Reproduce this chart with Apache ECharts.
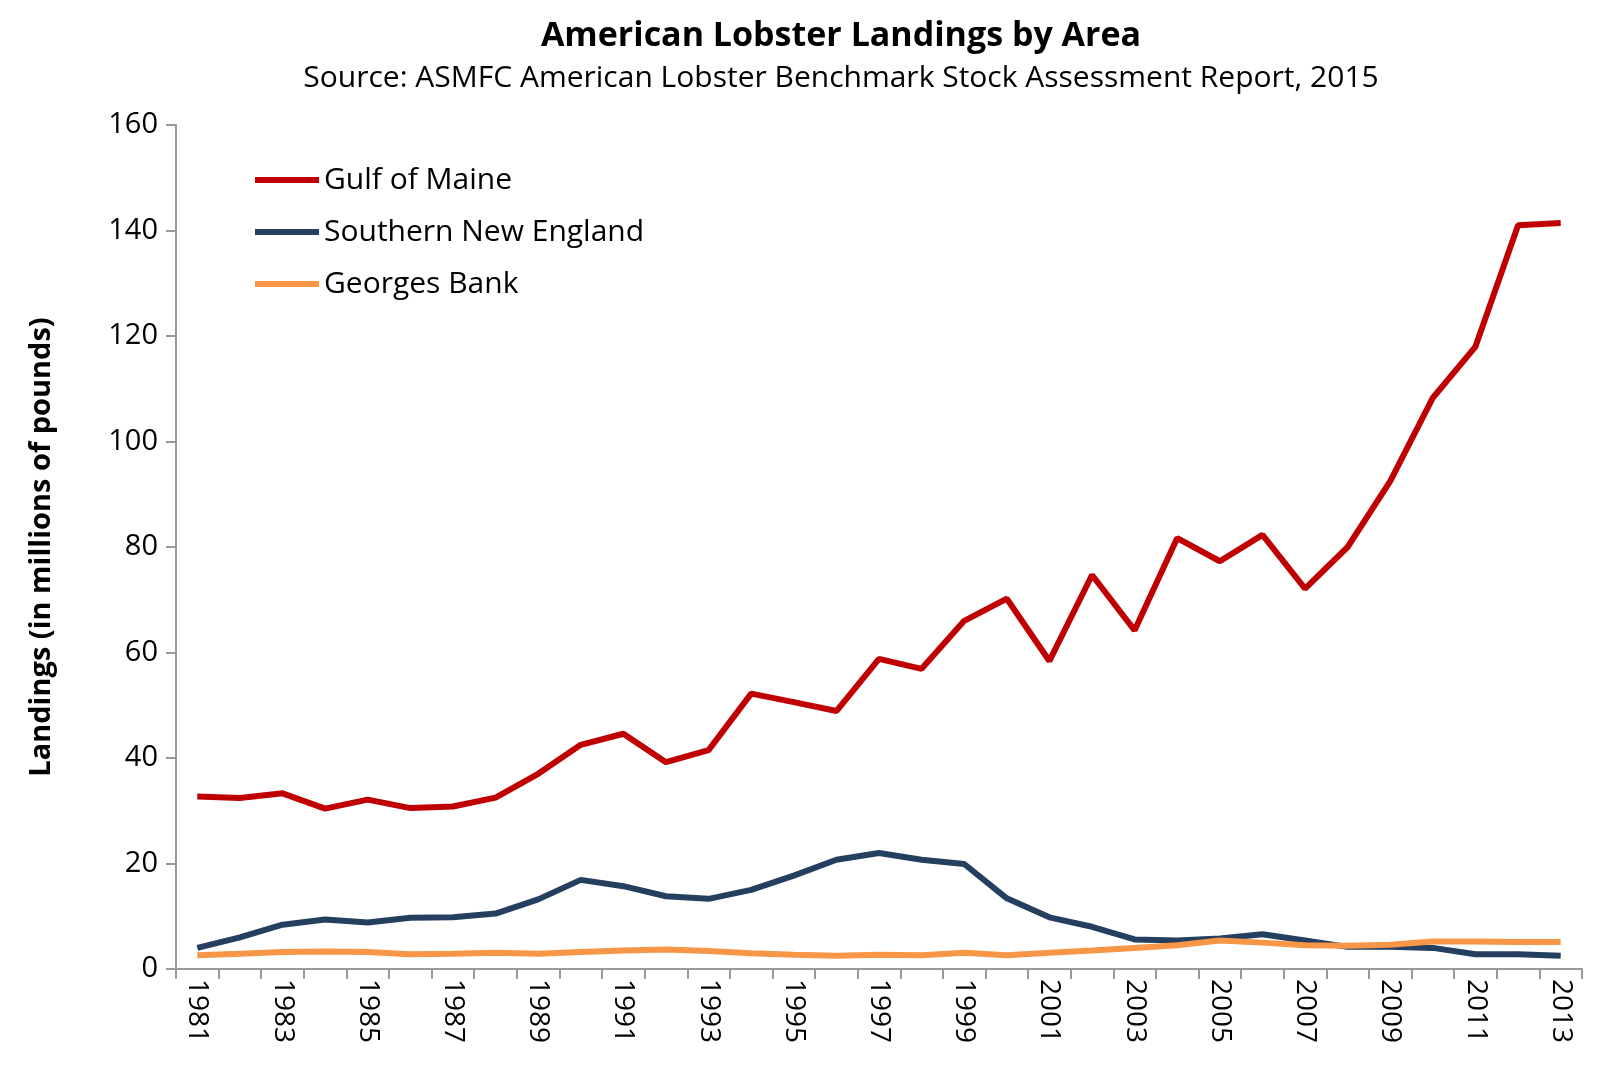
<!DOCTYPE html>
<html><head><meta charset="utf-8">
<script src="https://cdn.jsdelivr.net/npm/echarts@6/dist/echarts.min.js"></script>
<style>html,body{margin:0;padding:0;background:#fff}#c{width:1600px;height:1077px}</style>
</head><body><div id="c"></div>
<script>
const years = [];
for (let y = 1981; y <= 2013; y++) years.push(String(y));
const gulfOfMaine = [32.7,32.4,33.3,30.4,32.1,30.5,30.8,32.5,37,42.5,44.6,39.2,41.5,52.2,50.6,48.9,58.8,56.9,66,70.2,58.4,74.7,64.2,81.7,77.3,82.3,72.1,80,92.5,108.3,118,141,141.4];
const southernNewEngland = [4.0,6.0,8.4,9.4,8.8,9.7,9.8,10.5,13.2,16.9,15.7,13.8,13.3,15.0,17.7,20.7,22.0,20.7,19.9,13.4,9.8,8.0,5.6,5.4,5.8,6.6,5.4,4.2,4.2,4.0,2.8,2.8,2.5];
const georgesBank = [2.6,2.9,3.2,3.3,3.2,2.8,2.9,3.1,2.9,3.2,3.5,3.7,3.4,3.0,2.7,2.5,2.7,2.6,3.1,2.6,3.1,3.5,4.0,4.5,5.4,5.0,4.5,4.4,4.6,5.2,5.2,5.1,5.1];

const font = 'Open Sans, Noto Sans, sans-serif';
const chart = echarts.init(document.getElementById('c'));
const line = (name, data, color) => ({name, type:'line', data, symbol:'none', lineStyle:{width:6, color}, itemStyle:{color}});
chart.setOption({
  animation:false,
  title:{text:'American Lobster Landings by Area', subtext:'Source: ASMFC American Lobster Benchmark Stock Assessment Report, 2015',
    left:836, textAlign:'center', top:14, itemGap:10,
    textStyle:{fontFamily:font, fontSize:34, fontWeight:'bold', color:'#000'},
    subtextStyle:{fontFamily:font, fontSize:30, color:'#000'}},
  legend:{orient:'vertical', left:250, top:160, itemWidth:64, itemHeight:6, itemGap:22, icon:'rect',
    textStyle:{fontFamily:font, fontSize:30, color:'#000'}},
  grid:{left:176, right:18, top:125, bottom:108},
  xAxis:{type:'category', data:years, boundaryGap:true,
    axisLine:{lineStyle:{color:'#999', width:2}},
    axisTick:{show:true, interval:0, length:10, lineStyle:{color:'#999', width:2}},
    axisLabel:{interval:1, rotate:-90, fontFamily:font, fontSize:28, color:'#000', margin:10}},
  yAxis:{type:'value', min:0, max:160, interval:20,
    name:'Landings (in millions of pounds)', nameLocation:'middle', nameGap:120,
    nameTextStyle:{fontFamily:font, fontSize:29, fontWeight:'bold', color:'#000'},
    splitLine:{show:false},
    axisLine:{show:true, lineStyle:{color:'#999', width:2}},
    axisTick:{show:true, length:10, lineStyle:{color:'#999', width:2}},
    axisLabel:{fontFamily:font, fontSize:29, color:'#000', margin:18}},
  series:[
    line('Gulf of Maine', gulfOfMaine, '#c00000'),
    line('Southern New England', southernNewEngland, '#243f60'),
    line('Georges Bank', georgesBank, '#f79646')
  ]
});
</script></body></html>
